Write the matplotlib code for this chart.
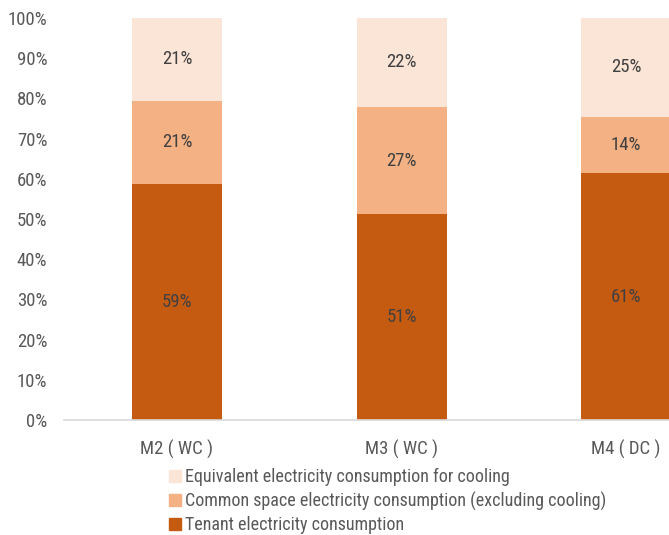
import matplotlib
matplotlib.use("Agg")
import matplotlib.pyplot as plt
from matplotlib.patches import Patch
from matplotlib import font_manager

categories = ["M2 ( WC )", "M3 ( WC )", "M4 ( DC )"]
tenant = [58.8, 51.2, 61.4]
common = [20.6, 26.7, 14.0]
cooling = [20.6, 22.1, 24.6]
series_names = ["Tenant electricity consumption",
                "Common space electricity consumption (excluding cooling)",
                "Equivalent electricity consumption for cooling"]
colors = ["#C55A11", "#F4B183", "#FBE5D6"]
yticks = list(range(0, 101, 10))

names = {f.name for f in font_manager.fontManager.ttflist}
chosen = None
for cand in ["Liberation Sans Narrow", "Roboto Condensed", "DejaVu Sans Condensed",
             "Open Sans Condensed", "Noto Sans Condensed"]:
    if cand in names:
        chosen = cand
        break
plt.rcParams['font.family'] = [chosen or 'DejaVu Sans', 'DejaVu Sans']
plt.rcParams['font.weight'] = 'normal'

W, H = 669, 535
fig = plt.figure(figsize=(W / 100, H / 100), dpi=100)
left_px, right_px, bottom_px, top_px = 64, 669, 420, 18
ax = fig.add_axes([left_px / W, 1 - bottom_px / H, (right_px - left_px) / W, (bottom_px - top_px) / H])

x = list(range(len(categories)))
spacing = 224.5
xmin = -(177 - left_px) / spacing
xmax = (right_px - 177) / spacing
width = 90 / spacing

fs = 13.5
lfs = 13

bottoms = [0] * len(categories)
for vals, col, name in zip([tenant, common, cooling], colors, series_names):
    ax.bar(x, vals, width=width, bottom=bottoms, color=col, label=name, zorder=2)
    for xi, v, b in zip(x, vals, bottoms):
        ax.text(xi, b + v / 2, f"{round(v):d}%", ha="center", va="center",
                fontsize=fs, color="#404040")
    bottoms = [b + v for b, v in zip(bottoms, vals)]

ax.set_xlim(xmin, xmax)
ax.set_ylim(0, 100)
ax.set_yticks(yticks)
ax.set_yticklabels([f"{t}%" for t in yticks])
ax.set_xticks(x)
ax.set_xticklabels(categories)
ax.tick_params(axis="both", length=0, labelsize=fs, colors="#595959")
ax.tick_params(axis="y", pad=12)
ax.tick_params(axis="x", pad=14)
for s in ["top", "right", "left"]:
    ax.spines[s].set_visible(False)
ax.spines["bottom"].set_color("#D9D9D9")
ax.spines["bottom"].set_linewidth(1.2)

handles = [Patch(color=colors[2]), Patch(color=colors[1]), Patch(color=colors[0])]
labels = [series_names[2], series_names[1], series_names[0]]
leg = fig.legend(handles, labels, loc="upper left", bbox_to_anchor=(169 / W, 1 - 468 / H),
                 frameon=False, fontsize=lfs, handlelength=0.65, handleheight=0.65,
                 handletextpad=0.25, labelspacing=0.3, borderaxespad=0, borderpad=0)
for t in leg.get_texts():
    t.set_color("#595959")

fig.savefig("out.png", dpi=100)
